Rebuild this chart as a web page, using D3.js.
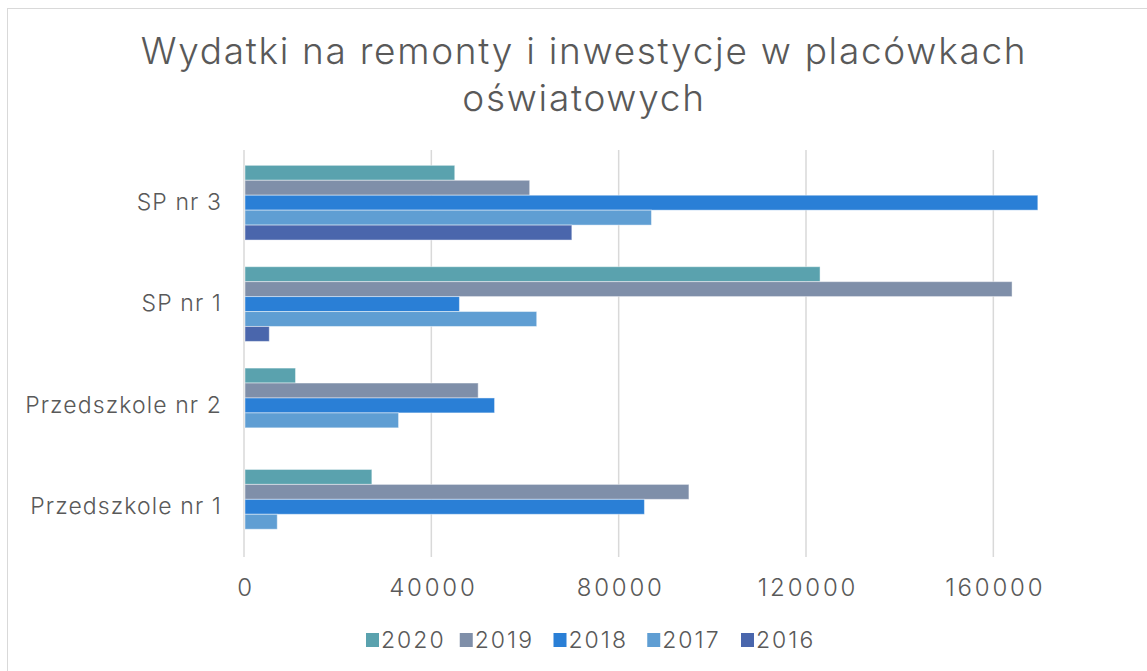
<!DOCTYPE html>
<html>
<head>
<meta charset="utf-8">
<script src="https://cdn.jsdelivr.net/npm/d3@7"></script>
<style>
  html, body { margin: 0; padding: 0; background: #ffffff; }
  svg { display: block; }
  text { font-family: Inter, sans-serif; font-weight: 300; fill: #595959; }
</style>
</head>
<body>
<svg id="chart" width="1147" height="671"></svg>
<script>
const categories = ["SP nr 3", "SP nr 1", "Przedszkole nr 2", "Przedszkole nr 1"];
const seriesNames = ["2020", "2019", "2018", "2017", "2016"];
const values2020 = [45000, 123000, 11000, 27300];
const values2019 = [61000, 164000, 50000, 95000];
const values2018 = [169500, 46000, 53500, 85500];
const values2017 = [87000, 62500, 33000, 7100];
const values2016 = [70000, 5400, 0, 0];
const tickValues = [0, 40000, 80000, 120000, 160000];
const colors = ["#5aa2ae", "#7f8fa9", "#2a7fd6", "#5f9ed3", "#4a66ac"];
const titleLines = ["Wydatki na remonty i inwestycje w placówkach", "oświatowych"];

const seriesValues = [values2020, values2019, values2018, values2017, values2016];

const svg = d3.select("#chart");

// outer border
svg.append("rect")
  .attr("x", 7.5).attr("y", 8.5)
  .attr("width", 1150).attr("height", 680)
  .attr("fill", "none").attr("stroke", "#d9d9d9").attr("stroke-width", 1);

const x = d3.scaleLinear().domain([0, 180000]).range([244, 1087]);
const y = d3.scaleBand().domain(categories).range([152, 557.5])
  .paddingInner(0.263).paddingOuter(0.1315);
const ys = d3.scaleBand().domain(seriesNames).range([0, y.bandwidth()]);

// gridlines
svg.append("g").selectAll("line").data(tickValues).join("line")
  .attr("x1", d => x(d)).attr("x2", d => x(d))
  .attr("y1", 150).attr("y2", 557)
  .attr("stroke", "#d9d9d9").attr("stroke-width", 1.5);

// bars
const rows = [];
categories.forEach((c, ci) => {
  seriesNames.forEach((s, si) => {
    rows.push({cat: c, series: s, value: seriesValues[si][ci], color: colors[si]});
  });
});
svg.append("g").selectAll("rect").data(rows.filter(d => d.value > 0)).join("rect")
  .attr("x", x(0) + 1)
  .attr("y", d => y(d.cat) + ys(d.series))
  .attr("width", d => x(d.value) - x(0) - 1)
  .attr("height", ys.bandwidth())
  .attr("fill", d => d.color)
  .attr("stroke", "#ffffff").attr("stroke-opacity", 0.45).attr("stroke-width", 1);

// x axis labels
const xAxis = d3.axisBottom(x).tickValues(tickValues).tickSize(0).tickPadding(0)
  .tickFormat(d3.format("d"));
const gx = svg.append("g").attr("transform", "translate(1.5,580)").call(xAxis);
gx.select(".domain").remove();
gx.selectAll("text").attr("font-size", 24).attr("font-family", null).attr("fill", "#595959")
  .attr("letter-spacing", 2.8).attr("dy", "0.35em").attr("y", 8);

// y axis labels
const yAxis = d3.axisLeft(y).tickSize(0).tickPadding(0);
const gy = svg.append("g").attr("transform", "translate(222,0)").call(yAxis);
gy.select(".domain").remove();
gy.selectAll("text").attr("font-size", 23).attr("font-family", null).attr("fill", "#595959")
  .attr("letter-spacing", 1.1);

// title
svg.append("g").selectAll("text").data(titleLines).join("text")
  .attr("x", 584).attr("y", (d, i) => 64 + i * 47)
  .attr("text-anchor", "middle")
  .attr("font-size", 37)
  .attr("letter-spacing", 1.7)
  .text(d => d);

// legend
const legendX = d3.scalePoint().domain(seriesNames).range([366, 741]);
const lg = svg.append("g").selectAll("g").data(seriesNames).join("g")
  .attr("transform", d => `translate(${legendX(d)},640)`);
lg.append("rect").attr("x", 0).attr("y", -7).attr("width", 13).attr("height", 14)
  .attr("fill", (d, i) => colors[i]);
lg.append("text").attr("x", 15).attr("dy", "0.35em").attr("font-size", 23)
  .attr("letter-spacing", 2).text(d => d);
</script>
</body>
</html>
